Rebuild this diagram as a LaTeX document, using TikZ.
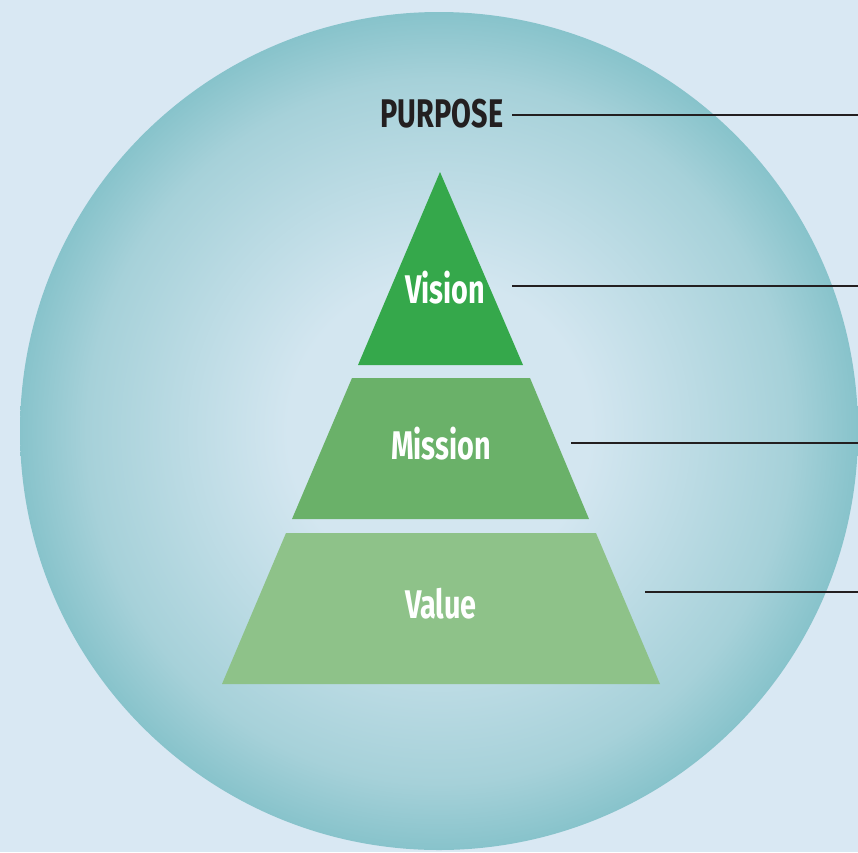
\documentclass[tikz,border=0pt]{standalone}
\usepackage{fontspec}
\setmainfont{Fira Sans}[FakeStretch=0.72]
\usetikzlibrary{positioning}
\definecolor{skyblue}{HTML}{D9E8F3}
\definecolor{bubbleedge}{HTML}{78BCC4}
\definecolor{bubblemid}{HTML}{A6D1D9}
\definecolor{bubblecore}{HTML}{D3E6F0}
\definecolor{visiongreen}{HTML}{35A84B}
\definecolor{missiongreen}{HTML}{6AB169}
\definecolor{valuegreen}{HTML}{8EC289}
\definecolor{inkline}{HTML}{231F20}
\pgfdeclareradialshading{bubble}{\pgfpoint{0bp}{0bp}}{%
  color(0bp)=(bubblecore); color(9bp)=(bubblecore);
  color(21bp)=(bubblemid); color(27bp)=(bubbleedge); color(50bp)=(bubbleedge)}
\tikzset{
    %Define style for the labels
    lbl/.style={
           font=\bfseries\fontsize{40}{40}\selectfont,
           inner sep=0pt,
           anchor=base,
           text=white},
    %Define style for the pyramid tiers
    tier/.style={
           draw=none},
    % Define leader line style
    pil/.style={
           draw=inkline,
           line width=1.8pt}
}
\begin{document}
\begin{tikzpicture}[x=1pt,y=-1pt]
  \fill[skyblue] (0,0) rectangle (858,852);
  \useasboundingbox (0,0) rectangle (858,852);
  % bubble
  \shade[shading=bubble] (439,431) circle[radius=419];
  % pyramid
  \fill[tier,visiongreen] (440,172) -- (523,365) -- (358,365) -- cycle;
  \fill[tier,missiongreen] (352,378) -- (530,378) -- (589,519) -- (292,519) -- cycle;
  \fill[tier,valuegreen] (286,533) -- (596,533) -- (660,684) -- (222,684) -- cycle;
  % labels
  \node[lbl,text=inkline] (purpose) at (442,127) {PURPOSE};
  \node[lbl] (vision) at (445,303) {Vision};
  \node[lbl] (mission) at (441,459) {Mission};
  \node[lbl] (value) at (441,618) {Value};
  % leader lines
  \foreach \nm/\xs/\ys in {purpose/512/115, vision/512/286, mission/571/443, value/645/592}{
    \coordinate (\nm-a) at (\xs,\ys);
    \coordinate (\nm-b) at (858,\ys);
    \draw[pil] (\nm-a) -- (\nm-b);
  }
\end{tikzpicture}
\end{document}
